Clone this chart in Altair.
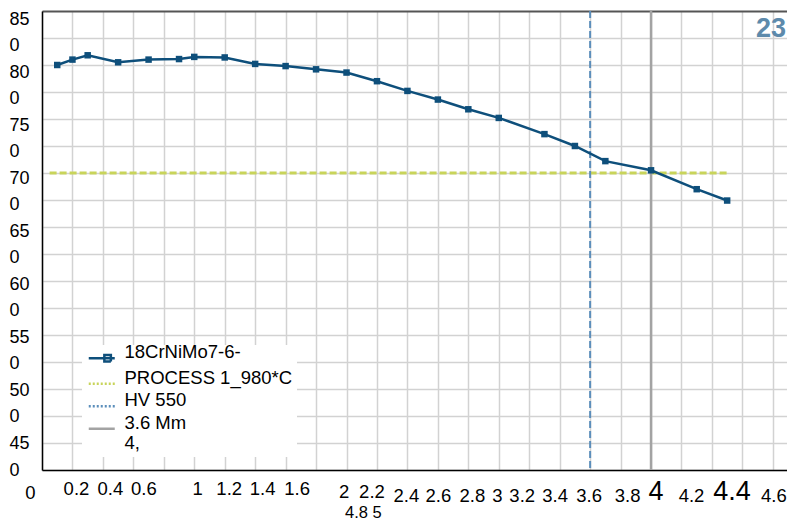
import json
import altair as alt
import pandas as pd

# ---------------- data ----------------
depth_mm = [0.1, 0.2, 0.3, 0.5, 0.7, 0.9, 1.0, 1.2, 1.4, 1.6, 1.8, 2.0, 2.2, 2.4,
            2.6, 2.8, 3.0, 3.3, 3.5, 3.7, 4.0, 4.3, 4.5]
hardness_hv = [800, 805, 809, 802.5, 805, 805.5, 807.5, 807, 801, 799, 796, 793, 785,
               776, 768, 759, 751, 736, 725, 711, 702.5, 685, 674.5]

series_names = ["18CrNiMo7-6-PROCESS 1_980*C", "HV 550", "3.6 Mm", "4,8"]
legend_lines = ["18CrNiMo7-6-", "PROCESS 1_980*C", "HV 550", ["3.6 Mm", "4,"]]
series_colors = ["#0e4f7b", "#c8d45a", "#5b8ebb", "#a3a3a3"]

hv_limit_x = [0.05, 4.5]
hv_limit_y = [700, 700]
chd_x = [3.6]
marker_x = [4.0]

x_tick_values = [0, 0.2, 0.4, 0.6, 0.8, 1.0, 1.2, 1.4, 1.6, 1.8, 2.0, 2.2, 2.4, 2.6,
                 2.8, 3.0, 3.2, 3.4, 3.6, 3.8, 4.0, 4.2, 4.4, 4.6, 4.8]
x_tick_labels = ["0", "0.2", "0.4", "0.6", "", "1", "1.2", "1.4", "1.6", "", "2", "2.2",
                 "2.4", "2.6", "2.8", "3", "3.2", "3.4", "3.6", "3.8", "4", "4.2", "4.4",
                 "4.6", "4.8  5"]
y_tick_values = [425, 450, 475, 500, 525, 550, 575, 600, 625, 650, 675, 700, 725, 750,
                 775, 800, 825, 850]

# ---------------- label styling ----------------
x_label_dx = {0: -12, 0.2: 3.5, 0.4: 7, 0.6: 10, 1.0: 3, 1.2: 4, 1.4: 7, 1.6: 11,
              2.0: -3, 2.2: -5.5, 2.4: -1.5, 2.6: 0, 2.8: 3.5, 3.0: -2, 3.2: -7.5,
              3.4: -5, 3.6: -1.5, 3.8: 6.5, 4.0: 4.5, 4.2: 9.5, 4.4: 19.5, 4.6: 31,
              4.8: -410}
x_label_pad = {0: 13.5, 2.0: 12, 2.2: 12, 2.4: 16, 2.6: 16, 2.8: 16, 3.0: 16,
               3.2: 16, 3.4: 16, 3.6: 16, 3.8: 16, 4.0: 8.5, 4.2: 16, 4.4: 8.5,
               4.6: 16, 4.8: 34}
x_label_size = {4.0: 27, 4.4: 27, 4.8: 16.5}

FONT = "Liberation Sans"
LABEL_SIZE = 18.5


def test(v):
    return f"abs(datum.value - {v}) < 0.01"


x_offset_cond = {"condition": [{"test": test(k), "value": v} for k, v in x_label_dx.items()],
                 "value": 0}
x_pad_cond = {"condition": [{"test": test(k), "value": v} for k, v in x_label_pad.items()],
              "value": 9}
x_size_cond = {"condition": [{"test": test(k), "value": v} for k, v in x_label_size.items()],
               "value": LABEL_SIZE}

y_offset_cond = {"condition": [{"test": test(v), "value": round(-1 - 0.47 * (850 - v) / 25, 1)}
                               for v in y_tick_values], "value": 0}

x_label_expr = json.dumps(x_tick_labels) + "[round(datum.value * 5)]"

legend_expr = "''"
for name, lines in reversed(list(zip(series_names, legend_lines))):
    legend_expr = f"datum.label == {json.dumps(name)} ? {json.dumps(lines)} : ({legend_expr})"

x_scale = alt.Scale(domain=[0, 4.893], nice=False, zero=False)
y_scale = alt.Scale(domain=[425, 850], nice=False, zero=False)

x_axis = alt.Axis(values=x_tick_values, labelExpr=x_label_expr, title=None, grid=True,
                  gridColor="#d2d2d2", gridWidth=1.5, domainColor="black", domainWidth=1.5,
                  ticks=False, tickSize=0, labelFont=FONT, labelFontSize=x_size_cond,
                  labelOffset=x_offset_cond, labelPadding=x_pad_cond, labelBaseline="top",
                  labelColor="black", labelOverlap=False, labelBound=False, labelFlush=False)
y_axis = alt.Axis(values=y_tick_values,
                  labelExpr="datum.value % 50 == 0 ? format(datum.value / 10, 'd') : '0'",
                  title=None, grid=True,
                  gridColor={"condition": {"test": "datum.value == 850", "value": "#555555"},
                             "value": "#d2d2d2"},
                  gridWidth={"condition": {"test": "datum.value == 850", "value": 2},
                             "value": 1.5},
                  domainColor="black", domainWidth=1.5, ticks=False, tickSize=0,
                  labelFont=FONT, labelFontSize=18, labelAlign="left", labelPadding=33,
                  labelBaseline="top", labelOffset=y_offset_cond, labelColor="black",
                  labelOverlap=False, labelBound=False, labelFlush=False)

legend = alt.Legend(title=None, orient="none", legendX=40, legendY=334, fillColor="white",
                    padding=4, labelExpr=legend_expr, labelFont=FONT, labelFontSize=LABEL_SIZE,
                    labelBaseline="alphabetic", labelOffset=20,
                    labelLimit=400, labelColor="black", symbolSize=169,
                    symbolStrokeWidth=2.5, rowPadding=1.5)

color = alt.Color("series:N", scale=alt.Scale(domain=series_names, range=series_colors),
                  legend=legend)

main_df = pd.DataFrame({"x": depth_mm, "y": hardness_hv, "series": series_names[0]})
hv_df = pd.DataFrame({"x": hv_limit_x, "y": hv_limit_y, "series": series_names[1]})
chd_df = pd.DataFrame({"x": chd_x, "series": series_names[2]})
mark_df = pd.DataFrame({"x": marker_x, "series": series_names[3]})
helper_df = pd.DataFrame({"series": pd.Series([], dtype=str)})

X = alt.X("x:Q", scale=x_scale, axis=x_axis)
Y = alt.Y("y:Q", scale=y_scale, axis=y_axis)

hv_line = alt.Chart(hv_df).mark_line(strokeWidth=3, strokeDash=[7, 3]).encode(x=X, y=Y, color=color)
chd_rule = alt.Chart(chd_df).mark_rule(strokeWidth=2, strokeDash=[7, 3]).encode(x=X, color=color)
marker_rule = alt.Chart(mark_df).mark_rule(strokeWidth=2.5).encode(x=X, color=color)
main_line = alt.Chart(main_df).mark_line(strokeWidth=2.5).encode(x=X, y=Y, color=color)
main_points = alt.Chart(main_df).mark_point(shape="square", filled=True, size=42, opacity=1,
                                            color=series_colors[0]).encode(x=X, y=Y)

line_path = "M-1,0H3"
square_path = "M-1,0H3M1.4,-0.5H2.4V0.5H1.4Z"
helper = alt.Chart(helper_df).mark_point(size=169, strokeWidth=2.5, opacity=1, filled=False).encode(
    color=color,
    shape=alt.Shape("series:N", scale=alt.Scale(domain=series_names,
                                                range=[square_path, line_path, line_path, line_path]),
                    legend=legend),
    strokeDash=alt.StrokeDash("series:N", scale=alt.Scale(domain=series_names,
                                                          range=[[1, 0], [2, 2], [2, 2], [1, 0]]),
                              legend=legend),
)

chart = alt.layer(hv_line, chd_rule, marker_rule, main_line, main_points, helper).properties(
    width=745, height=459,
    title=alt.TitleParams("23", anchor="end", fontSize=27, fontWeight="bold", color="#5d8aab",
                          font=FONT, dx=-1, dy=54, baseline="alphabetic", offset=0, frame="group"),
    autosize=alt.AutoSizeParams(type="none"),
    padding={"left": 34, "top": 3, "right": 0, "bottom": 51},
).configure_view(stroke=None).configure(background="white")

chart.save("out.html", embed_options={"renderer": "svg", "actions": False})
